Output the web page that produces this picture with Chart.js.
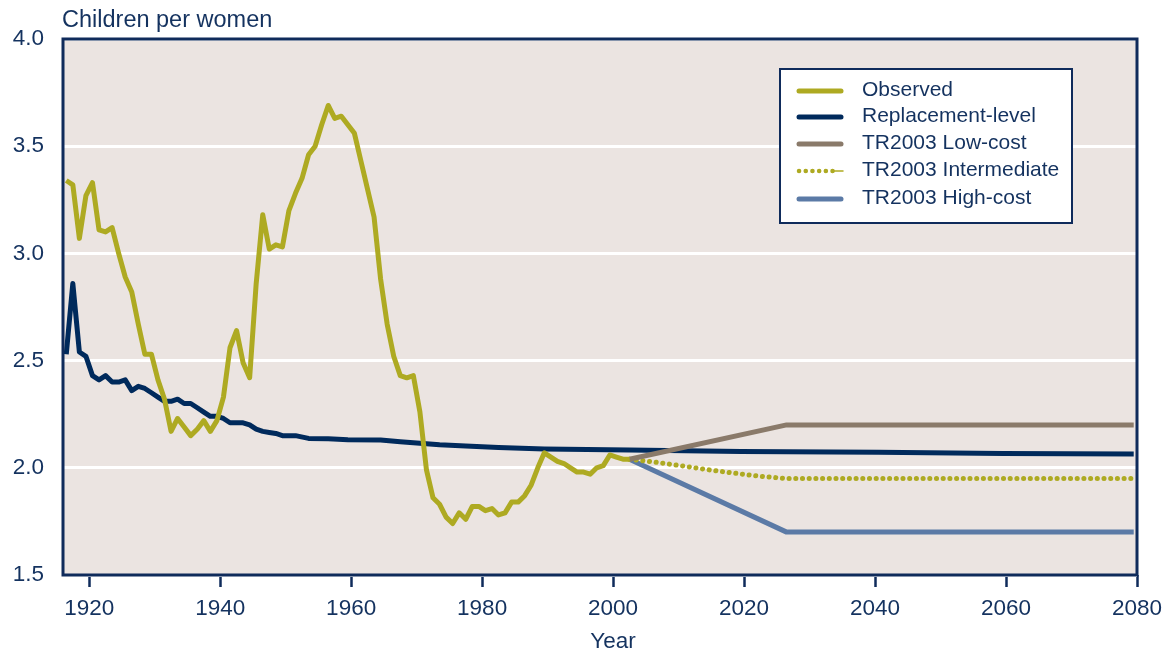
<!DOCTYPE html>
<html>
<head>
<meta charset="utf-8">
<title>Total fertility rate</title>
<script src="https://cdn.jsdelivr.net/npm/chart.js@4.4.1/dist/chart.umd.min.js"></script>
<style>
  html, body { margin: 0; padding: 0; background: #ffffff; }
  #tfr { display: block; }
</style>
</head>
<body>
<canvas id="tfr" width="1167" height="654"></canvas>
<script>
// Observed total fertility rate, one value per year 1917-2003
const observedYears = [
    1917, 1918, 1919,
    1920, 1921, 1922, 1923, 1924, 1925, 1926, 1927, 1928, 1929,
    1930, 1931, 1932, 1933, 1934, 1935, 1936, 1937, 1938, 1939,
    1940, 1941, 1942, 1943, 1944, 1945, 1946, 1947, 1948, 1949,
    1950, 1951, 1952, 1953, 1954, 1955, 1956, 1957, 1958, 1959,
    1960, 1961, 1962, 1963, 1964, 1965, 1966, 1967, 1968, 1969,
    1970, 1971, 1972, 1973, 1974, 1975, 1976, 1977, 1978, 1979,
    1980, 1981, 1982, 1983, 1984, 1985, 1986, 1987, 1988, 1989,
    1990, 1991, 1992, 1993, 1994, 1995, 1996, 1997, 1998, 1999,
    2000, 2001, 2002, 2003
];
const observedRates = [
    3.34, 3.32, 3.07,
    3.27, 3.33, 3.11, 3.10, 3.12, 3.00, 2.89, 2.82, 2.67, 2.53,
    2.53, 2.41, 2.32, 2.17, 2.23, 2.19, 2.15, 2.18, 2.22, 2.17,
    2.22, 2.33, 2.56, 2.64, 2.49, 2.42, 2.86, 3.18, 3.02, 3.04,
    3.03, 3.20, 3.28, 3.35, 3.46, 3.50, 3.60, 3.69, 3.63, 3.64,
    3.60, 3.56, 3.43, 3.30, 3.17, 2.88, 2.67, 2.52, 2.43, 2.42,
    2.43, 2.26, 1.99, 1.86, 1.83, 1.77, 1.74, 1.79, 1.76, 1.82,
    1.82, 1.80, 1.81, 1.78, 1.79, 1.84, 1.84, 1.87, 1.92, 2.00,
    2.07, 2.05, 2.03, 2.02, 2.00, 1.98, 1.98, 1.97, 2.00, 2.01,
    2.06, 2.05, 2.04, 2.04
];

// Replacement-level fertility
const replacementYears = [
    1917, 1918, 1919, 1920, 1921, 1922, 1923, 1924, 1925, 1926,
    1927, 1928, 1929, 1930, 1931, 1932, 1933, 1934, 1935, 1936,
    1937, 1938, 1939, 1940, 1941, 1942, 1943, 1944, 1945, 1946,
    1947, 1948, 1949, 1950, 1952, 1954, 1957, 1960, 1965, 1968,
    1971, 1974, 1978, 1983, 1990, 2003, 2020, 2041, 2060, 2080
];
const replacementRates = [
    2.53, 2.86, 2.54, 2.52, 2.43, 2.41, 2.43, 2.40, 2.40, 2.41,
    2.36, 2.38, 2.37, 2.35, 2.33, 2.31, 2.31, 2.32, 2.30, 2.30,
    2.28, 2.26, 2.24, 2.24, 2.23, 2.21, 2.21, 2.21, 2.20, 2.18,
    2.17, 2.165, 2.16, 2.15, 2.15, 2.137, 2.135, 2.131, 2.13, 2.122,
    2.115, 2.107, 2.102, 2.095, 2.088, 2.083, 2.076, 2.072, 2.067, 2.064
];

// Trustees Report 2003 projections
const projectionYears = [2003, 2027, 2080];
const lowCostRates = [2.04, 2.20, 2.20];
const highCostRates = [2.04, 1.70, 1.70];
const intermediateYears = [2003, 2007, 2011, 2015, 2019, 2023, 2027, 2080];
const intermediateRates = [2.04, 2.026, 2.009, 1.991, 1.975, 1.96, 1.95, 1.95];

const xTickYears = [1920, 1940, 1960, 1980, 2000, 2020, 2040, 2060, 2080];
const yTickValues = [1.5, 2.0, 2.5, 3.0, 3.5, 4.0];

const FONT = '"Liberation Sans", Arial, sans-serif';
const TEXT_COLOR = '#14325f';
const FRAME_COLOR = '#0f2b5b';
const PLOT_BG = '#ebe4e1';

// yearly values sit half a year left of the year tick in the original
const toPoints = (years, values) => years.map((yr, i) => ({ x: yr - 0.5, y: values[i] }));

const seriesStyle = [
    { label: 'Observed', years: observedYears, values: observedRates, color: '#aeaa22', width: 5, order: 0 },
    { label: 'Replacement-level', years: replacementYears, values: replacementRates, color: '#002a5c', width: 5, order: 4 },
    { label: 'TR2003 Low-cost', years: projectionYears, values: lowCostRates, color: '#8a7a6a', width: 5, order: 1 },
    { label: 'TR2003 Intermediate', years: intermediateYears, values: intermediateRates, color: '#aeaa22', width: 5, order: 2, dotted: true },
    { label: 'TR2003 High-cost', years: projectionYears, values: highCostRates, color: '#5b7aa6', width: 5, order: 3 }
];

const datasets = seriesStyle.map(s => ({
    label: s.label,
    data: toPoints(s.years, s.values),
    borderColor: s.color,
    backgroundColor: s.color,
    borderWidth: s.width,
    borderDash: s.dotted ? [0.1, 6.6] : [],
    borderCapStyle: s.dotted ? 'round' : 'butt',
    borderJoinStyle: 'round',
    pointRadius: 0,
    tension: 0,
    fill: false,
    order: s.order
}));

// Plot background, frame, titles and boxed legend
const decorPlugin = {
    id: 'decor',
    beforeDraw(chart) {
        const { ctx, chartArea: a } = chart;
        ctx.save();
        ctx.fillStyle = PLOT_BG;
        ctx.fillRect(a.left, a.top, a.right - a.left, a.bottom - a.top);
        ctx.restore();
    },
    afterDatasetsDraw(chart) {
        const { ctx, chartArea: a } = chart;
        ctx.save();
        ctx.strokeStyle = FRAME_COLOR;
        ctx.lineWidth = 3;
        ctx.strokeRect(a.left, a.top, a.right - a.left, a.bottom - a.top);
        ctx.restore();
    },
    afterDraw(chart) {
        const { ctx } = chart;
        ctx.save();
        ctx.fillStyle = TEXT_COLOR;
        ctx.font = '23.5px ' + FONT;
        ctx.textBaseline = 'alphabetic';
        ctx.textAlign = 'left';
        ctx.fillText('Children per women', 62, 27);
        ctx.font = '22.5px ' + FONT;
        ctx.textAlign = 'center';
        ctx.fillText('Year', 613, 648);

        // legend box
        const box = { x: 780, y: 69, w: 292, h: 154 };
        ctx.fillStyle = '#ffffff';
        ctx.fillRect(box.x, box.y, box.w, box.h);
        ctx.strokeStyle = FRAME_COLOR;
        ctx.lineWidth = 2;
        ctx.strokeRect(box.x, box.y, box.w, box.h);

        const rowY = [90, 116, 143, 170, 198];
        ctx.font = '21px ' + FONT;
        ctx.textAlign = 'left';
        ctx.textBaseline = 'middle';
        seriesStyle.forEach((s, i) => {
            const y = rowY[i] + 1;
            ctx.strokeStyle = s.color;
            ctx.lineWidth = s.dotted ? 4.5 : 5;
            ctx.lineCap = 'round';
            ctx.setLineDash(s.dotted ? [0.1, 6.6] : []);
            ctx.beginPath();
            ctx.moveTo(799, y);
            ctx.lineTo(s.dotted ? 834 : 841, y);
            ctx.stroke();
            if (s.dotted) {
                ctx.setLineDash([]);
                ctx.lineWidth = 1.5;
                ctx.beginPath();
                ctx.moveTo(834, y);
                ctx.lineTo(843, y);
                ctx.stroke();
            }
            ctx.fillStyle = TEXT_COLOR;
            ctx.fillText(s.label, 862, rowY[i]);
        });
        ctx.restore();
    }
};

const chart = new Chart(document.getElementById('tfr').getContext('2d'), {
    type: 'line',
    data: { datasets },
    plugins: [decorPlugin],
    options: {
        responsive: false,
        animation: false,
        layout: { padding: { top: 39, right: 30, bottom: 0, left: 0 } },
        plugins: {
            legend: { display: false },
            tooltip: { enabled: false },
            title: { display: false }
        },
        scales: {
            x: {
                type: 'linear',
                min: 1916,
                max: 2080,
                afterBuildTicks: axis => {
                    axis.ticks = xTickYears.map(v => ({ value: v }));
                },
                afterFit: axis => {
                    axis.height = 79;
                    axis.paddingLeft = 0;
                    axis.paddingRight = 0;
                },
                border: { display: false },
                grid: {
                    drawOnChartArea: false,
                    drawTicks: true,
                    tickLength: 12,
                    tickWidth: 2.5,
                    tickColor: FRAME_COLOR
                },
                ticks: {
                    color: TEXT_COLOR,
                    font: { family: FONT, size: 22.5 },
                    padding: 8,
                    maxRotation: 0,
                    callback: v => String(v)
                }
            },
            y: {
                type: 'linear',
                min: 1.5,
                max: 4.0,
                afterBuildTicks: axis => {
                    axis.ticks = yTickValues.map(v => ({ value: v }));
                },
                afterFit: axis => { axis.width = 63; },
                border: { display: false },
                grid: {
                    color: '#ffffff',
                    lineWidth: 3,
                    drawTicks: false,
                    tickLength: 0
                },
                ticks: {
                    color: TEXT_COLOR,
                    font: { family: FONT, size: 22.5 },
                    padding: 19,
                    callback: v => Number(v).toFixed(1)
                }
            }
        }
    }
});
</script>
</body>
</html>
